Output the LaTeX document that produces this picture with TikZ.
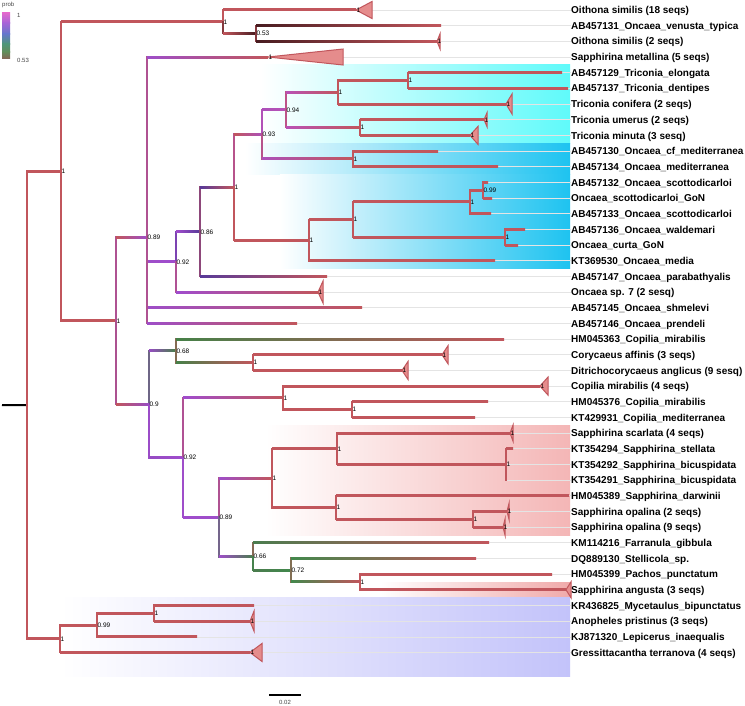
\documentclass[tikz,border=0pt]{standalone}
\usepackage{fontspec}
\setmainfont{Liberation Sans}
\usetikzlibrary{calc}
\definecolor{cR}{RGB}{193,86,92}
\definecolor{cD}{RGB}{72,28,32}
\definecolor{cPa}{RGB}{158,78,200}
\definecolor{cPb}{RGB}{160,76,205}
\definecolor{cPc}{RGB}{150,76,195}
\definecolor{cBV}{RGB}{88,58,152}
\definecolor{cMa}{RGB}{172,80,186}
\definecolor{cMb}{RGB}{185,82,182}
\definecolor{cGa}{RGB}{70,128,72}
\definecolor{cGb}{RGB}{74,124,78}
\definecolor{cGc}{RGB}{66,136,76}
\definecolor{triF}{RGB}{229,140,140}
\definecolor{hlC}{RGB}{95,250,250}
\definecolor{hlB}{RGB}{30,195,240}
\definecolor{hlP}{RGB}{244,182,182}
\definecolor{hlQ}{RGB}{240,170,170}
\definecolor{hlL}{RGB}{195,195,250}
\definecolor{gline}{RGB}{228,228,228}
\definecolor{lgA}{RGB}{135,100,85}
\definecolor{lgB}{RGB}{100,140,90}
\definecolor{lgC}{RGB}{80,150,120}
\definecolor{lgD}{RGB}{100,120,200}
\definecolor{lgE}{RGB}{165,100,215}
\definecolor{lgF}{RGB}{225,105,205}
\definecolor{lgT}{RGB}{70,70,70}
\newcommand\tbr[4]{%
  \draw[brl,#3!50!#4] (#1) -- (#1|-#2);
  \shade[left color=#3,right color=#4] ($(#1|-#2)+(0,-1)$) rectangle ($(#2)+(0,1)$);
}
\newcommand\ctri[3]{\filldraw[tri] (#1) -- ++(#2,-#3) -- ++(0,2*#3) -- cycle;}
\begin{document}
\begin{tikzpicture}[x=1pt,y=-1pt,
  brl/.style={line width=2pt,line cap=rect},
  tri/.style={fill=triF,draw=cR,line width=1pt,line join=miter},
  lab/.style={anchor=west,inner sep=0pt,font=\bfseries\fontsize{10}{12}\selectfont,text height=7.3pt,text depth=0pt},
  nl/.style={anchor=west,inner sep=0.4pt,font=\fontsize{6.5}{7}\selectfont,text height=4.7pt,text depth=0pt},
  guide/.style={line width=0.6pt,draw=gline},
  small/.style={inner sep=0pt,text=lgT,font=\fontsize{6}{7}\selectfont}]
\useasboundingbox[fill=white] (0,0) rectangle (745,706);
% highlights
\shade[left color=white,right color=hlC] (261,64.8) rectangle (570,143.2);
\shade[left color=white,right color=hlB] (245,143.2) rectangle (570,174.5);
\shade[left color=white,right color=hlB] (280,174.5) rectangle (570,268.5);
\shade[left color=white,right color=hlP] (265,425.3) rectangle (570,535);
\shade[left color=white,right color=hlQ] (380,582) rectangle (570,597.6);
\shade[left color=white,right color=hlL] (60,597.6) rectangle (570,676);
% internal nodes
\coordinate (stub) at (2,405);
\coordinate (root) at (27,405.03);
\coordinate (A) at (61,171.3);
\coordinate (Oith) at (223,21.75);
\coordinate (B) at (256,33.5);
\coordinate (C) at (116,320.85);
\coordinate (D) at (147,237.5);
\coordinate (E) at (176,261.9);
\coordinate (G) at (200,231.8);
\coordinate (H) at (234,187.28);
\coordinate (I) at (262,134.4);
\coordinate (K) at (286,109.9);
\coordinate (M) at (338,92.26);
\coordinate (O) at (408,80.5);
\coordinate (N) at (360,127.5);
\coordinate (L) at (353,158.87);
\coordinate (J) at (309,240.16);
\coordinate (P) at (353,219.6);
\coordinate (Q) at (470,201.96);
\coordinate (S) at (483,190.2);
\coordinate (Rn) at (505,237.2);
\coordinate (F) at (149,404.2);
\coordinate (T) at (176,350.8);
\coordinate (V) at (253,362.6);
\coordinate (U) at (183,457.55);
\coordinate (W) at (283,397.8);
\coordinate (X) at (352,409.6);
\coordinate (Y) at (219,517.3);
\coordinate (Z) at (272,478.1);
\coordinate (AB) at (337,448.76);
\coordinate (AD) at (506,464.43);
\coordinate (AC) at (336,507.5);
\coordinate (AE) at (473,519.3);
\coordinate (AA) at (253,556.5);
\coordinate (AF) at (291,570.2);
\coordinate (AG) at (360,581.96);
\coordinate (Out) at (60,638.76);
\coordinate (AH) at (97,625.05);
\coordinate (AI) at (154,613.3);
% leaves
\coordinate (l1) at (356,10);
\coordinate (l2) at (441,25.67);
\coordinate (l3) at (437,41.34);
\coordinate (l4) at (268,57.01);
\coordinate (l5) at (562,72.68);
\coordinate (l6) at (568,88.35);
\coordinate (l7) at (506,104.02);
\coordinate (l8) at (484,119.69);
\coordinate (l9) at (470,135.36);
\coordinate (l10) at (438,151.03);
\coordinate (l11) at (498,166.7);
\coordinate (l12) at (488,182.37);
\coordinate (l13) at (492,198.04);
\coordinate (l14) at (491,213.71);
\coordinate (l15) at (525,229.38);
\coordinate (l16) at (518,245.05);
\coordinate (l17) at (495,260.72);
\coordinate (l18) at (327,276.39);
\coordinate (l19) at (318,292.06);
\coordinate (l20) at (362,307.73);
\coordinate (l21) at (297,323.4);
\coordinate (l22) at (504,339.07);
\coordinate (l23) at (442,354.74);
\coordinate (l24) at (402,370.41);
\coordinate (l25) at (540,386.08);
\coordinate (l26) at (488,401.75);
\coordinate (l27) at (475,417.42);
\coordinate (l28) at (510,433.09);
\coordinate (l29) at (513,448.76);
\coordinate (l30) at (506,464.43);
\coordinate (l31) at (506,480.1);
\coordinate (l32) at (569,495.77);
\coordinate (l33) at (507,511.44);
\coordinate (l34) at (503,527.11);
\coordinate (l35) at (489,542.78);
\coordinate (l36) at (476,558.45);
\coordinate (l37) at (552,574.12);
\coordinate (l38) at (566,589.79);
\coordinate (l39) at (254,605.46);
\coordinate (l40) at (250,621.13);
\coordinate (l41) at (197,636.8);
\coordinate (l42) at (250,652.47);
% leaf labels
\node[lab] (t1) at (571,10) {Oithona similis (18 seqs)};
\node[lab] (t2) at (571,25.67) {AB457131\_Oncaea\_venusta\_typica};
\node[lab] (t3) at (571,41.34) {Oithona similis (2 seqs)};
\node[lab] (t4) at (571,57.01) {Sapphirina metallina (5 seqs)};
\node[lab] (t5) at (571,72.68) {AB457129\_Triconia\_elongata};
\node[lab] (t6) at (571,88.35) {AB457137\_Triconia\_dentipes};
\node[lab] (t7) at (571,104.02) {Triconia conifera (2 seqs)};
\node[lab] (t8) at (571,119.69) {Triconia umerus (2 seqs)};
\node[lab] (t9) at (571,135.36) {Triconia minuta (3 sesq)};
\node[lab] (t10) at (571,151.03) {AB457130\_Oncaea\_cf\_mediterranea};
\node[lab] (t11) at (571,166.7) {AB457134\_Oncaea\_mediterranea};
\node[lab] (t12) at (571,182.37) {AB457132\_Oncaea\_scottodicarloi};
\node[lab] (t13) at (571,198.04) {Oncaea\_scottodicarloi\_GoN};
\node[lab] (t14) at (571,213.71) {AB457133\_Oncaea\_scottodicarloi};
\node[lab] (t15) at (571,229.38) {AB457136\_Oncaea\_waldemari};
\node[lab] (t16) at (571,245.05) {Oncaea\_curta\_GoN};
\node[lab] (t17) at (571,260.72) {KT369530\_Oncaea\_media};
\node[lab] (t18) at (571,276.39) {AB457147\_Oncaea\_parabathyalis};
\node[lab] (t19) at (571,292.06) {Oncaea sp. 7 (2 sesq)};
\node[lab] (t20) at (571,307.73) {AB457145\_Oncaea\_shmelevi};
\node[lab] (t21) at (571,323.4) {AB457146\_Oncaea\_prendeli};
\node[lab] (t22) at (571,339.07) {HM045363\_Copilia\_mirabilis};
\node[lab] (t23) at (571,354.74) {Corycaeus affinis (3 seqs)};
\node[lab] (t24) at (571,370.41) {Ditrichocorycaeus anglicus (9 sesq)};
\node[lab] (t25) at (571,386.08) {Copilia mirabilis (4 seqs)};
\node[lab] (t26) at (571,401.75) {HM045376\_Copilia\_mirabilis};
\node[lab] (t27) at (571,417.42) {KT429931\_Copilia\_mediterranea};
\node[lab] (t28) at (571,433.09) {Sapphirina scarlata (4 seqs)};
\node[lab] (t29) at (571,448.76) {KT354294\_Sapphirina\_stellata};
\node[lab] (t30) at (571,464.43) {KT354292\_Sapphirina\_bicuspidata};
\node[lab] (t31) at (571,480.1) {KT354291\_Sapphirina\_bicuspidata};
\node[lab] (t32) at (571,495.77) {HM045389\_Sapphirina\_darwinii};
\node[lab] (t33) at (571,511.44) {Sapphirina opalina (2 seqs)};
\node[lab] (t34) at (571,527.11) {Sapphirina opalina (9 seqs)};
\node[lab] (t35) at (571,542.78) {KM114216\_Farranula\_gibbula};
\node[lab] (t36) at (571,558.45) {DQ889130\_Stellicola\_sp.};
\node[lab] (t37) at (571,574.12) {HM045399\_Pachos\_punctatum};
\node[lab] (t38) at (571,589.79) {Sapphirina angusta (3 seqs)};
\node[lab] (t39) at (571,605.46) {KR436825\_Mycetaulus\_bipunctatus};
\node[lab] (t40) at (571,621.13) {Anopheles pristinus (3 seqs)};
\node[lab] (t41) at (571,636.8) {KJ871320\_Lepicerus\_inaequalis};
\node[lab] (t42) at (571,652.47) {Gressittacantha terranova (4 seqs)};
% guide lines
\foreach \i in {1,...,42}{\draw[guide] (l\i) -- (t\i.west);}
% branches
\draw[line width=2pt] (stub) -- (root);
\tbr{root}{A}{cR}{cR}
\tbr{root}{Out}{cR}{cR}
\tbr{A}{Oith}{cR}{cR}
\tbr{A}{C}{cR}{cR}
\tbr{Oith}{l1}{cR}{cR}
\tbr{Oith}{B}{cR}{cD}
\tbr{B}{l2}{cD}{cR}
\tbr{B}{l3}{cD}{cR}
\tbr{C}{D}{cR}{cPa}
\tbr{C}{F}{cR}{cPc}
\tbr{D}{l4}{cPa}{cR}
\tbr{D}{E}{cPa}{cPb}
\tbr{D}{l20}{cPa}{cR}
\tbr{D}{l21}{cPa}{cR}
\tbr{E}{G}{cPb}{cBV}
\tbr{E}{l19}{cPb}{cR}
\tbr{G}{H}{cBV}{cR}
\tbr{G}{l18}{cBV}{cR}
\tbr{H}{I}{cR}{cMa}
\tbr{H}{J}{cR}{cR}
\tbr{I}{K}{cMa}{cMb}
\tbr{I}{L}{cMa}{cR}
\tbr{K}{M}{cMb}{cR}
\tbr{K}{N}{cMb}{cR}
\tbr{M}{O}{cR}{cR}
\tbr{M}{l7}{cR}{cR}
\tbr{O}{l5}{cR}{cR}
\tbr{O}{l6}{cR}{cR}
\tbr{N}{l8}{cR}{cR}
\tbr{N}{l9}{cR}{cR}
\tbr{L}{l10}{cR}{cR}
\tbr{L}{l11}{cR}{cR}
\tbr{J}{P}{cR}{cR}
\tbr{J}{l17}{cR}{cR}
\tbr{P}{Q}{cR}{cR}
\tbr{P}{Rn}{cR}{cR}
\tbr{Q}{S}{cR}{cR}
\tbr{Q}{l14}{cR}{cR}
\tbr{S}{l12}{cR}{cR}
\tbr{S}{l13}{cR}{cR}
\tbr{Rn}{l15}{cR}{cR}
\tbr{Rn}{l16}{cR}{cR}
\tbr{F}{T}{cPc}{cGa}
\tbr{F}{U}{cPc}{cPb}
\tbr{T}{l22}{cGa}{cR}
\tbr{T}{V}{cGa}{cR}
\tbr{V}{l23}{cR}{cR}
\tbr{V}{l24}{cR}{cR}
\tbr{U}{W}{cPb}{cR}
\tbr{U}{Y}{cPb}{cPa}
\tbr{W}{l25}{cR}{cR}
\tbr{W}{X}{cR}{cR}
\tbr{X}{l26}{cR}{cR}
\tbr{X}{l27}{cR}{cR}
\tbr{Y}{Z}{cPa}{cR}
\tbr{Y}{AA}{cPa}{cGb}
\tbr{Z}{AB}{cR}{cR}
\tbr{Z}{AC}{cR}{cR}
\tbr{AB}{l28}{cR}{cR}
\tbr{AB}{AD}{cR}{cR}
\tbr{AD}{l29}{cR}{cR}
\draw[brl,cR] (AD) -- (l31);
\tbr{AC}{l32}{cR}{cR}
\tbr{AC}{AE}{cR}{cR}
\tbr{AE}{l33}{cR}{cR}
\tbr{AE}{l34}{cR}{cR}
\tbr{AA}{l35}{cGb}{cR}
\tbr{AA}{AF}{cGb}{cGc}
\tbr{AF}{l36}{cGc}{cR}
\tbr{AF}{AG}{cGc}{cR}
\tbr{AG}{l37}{cR}{cR}
\tbr{AG}{l38}{cR}{cR}
\tbr{Out}{AH}{cR}{cR}
\tbr{Out}{l42}{cR}{cR}
\tbr{AH}{AI}{cR}{cR}
\tbr{AH}{l41}{cR}{cR}
\tbr{AI}{l39}{cR}{cR}
\tbr{AI}{l40}{cR}{cR}
% collapsed clades
\ctri{l1}{16}{8.5}
\ctri{l3}{3}{7.5}
\ctri{l4}{75}{8}
\ctri{l7}{6}{10}
\ctri{l8}{3}{7}
\ctri{l9}{8}{9}
\ctri{l19}{5}{11}
\ctri{l23}{6}{9}
\ctri{l24}{6}{9}
\ctri{l25}{8}{9}
\ctri{l28}{3}{8}
\ctri{l33}{2}{8}
\ctri{l34}{2}{8}
\ctri{l38}{5}{8}
\ctri{l40}{4}{10}
\ctri{l42}{12}{9}
% node labels
\node[nl] (nA) at (A) {1};
\node[nl] (nOith) at (Oith) {1};
\node[nl] (nB) at (B) {0.53};
\node[nl] (nC) at (C) {1};
\node[nl] (nD) at (D) {0.89};
\node[nl] (nE) at (E) {0.92};
\node[nl] (nG) at (G) {0.86};
\node[nl] (nH) at (H) {1};
\node[nl] (nI) at (I) {0.93};
\node[nl] (nK) at (K) {0.94};
\node[nl] (nM) at (M) {1};
\node[nl] (nO) at (O) {1};
\node[nl] (nN) at (N) {1};
\node[nl] (nL) at (L) {1};
\node[nl] (nJ) at (J) {1};
\node[nl] (nP) at (P) {1};
\node[nl] (nQ) at (Q) {1};
\node[nl] (nS) at (S) {0.99};
\node[nl] (nRn) at (Rn) {1};
\node[nl] (nF) at (F) {0.9};
\node[nl] (nT) at (T) {0.68};
\node[nl] (nV) at (V) {1};
\node[nl] (nU) at (U) {0.92};
\node[nl] (nW) at (W) {1};
\node[nl] (nX) at (X) {1};
\node[nl] (nY) at (Y) {0.89};
\node[nl] (nZ) at (Z) {1};
\node[nl] (nAB) at (AB) {1};
\node[nl] (nAD) at (AD) {1};
\node[nl] (nAC) at (AC) {1};
\node[nl] (nAE) at (AE) {1};
\node[nl] (nAA) at (AA) {0.66};
\node[nl] (nAF) at (AF) {0.72};
\node[nl] (nAG) at (AG) {1};
\node[nl] (nOut) at (Out) {1};
\node[nl] (nAH) at (AH) {0.99};
\node[nl] (nAI) at (AI) {1};
\foreach \i in {1,3,4,7,8,9,19,23,24,25,28,33,34,40,42}{\node[nl] (c\i) at (l\i) {1};}
% legend
\node[small,anchor=north west] (lgt) at (2,2) {prob};
\shade[top color=lgF,bottom color=lgE] (2,13) rectangle (10,23.2);
\shade[top color=lgE,bottom color=lgD] (2,23) rectangle (10,34.2);
\shade[top color=lgD,bottom color=lgC] (2,34) rectangle (10,44.2);
\shade[top color=lgC,bottom color=lgB] (2,44) rectangle (10,52.2);
\shade[top color=lgB,bottom color=lgA] (2,52) rectangle (10,59);
\node[small,anchor=west] (lg1) at (17,15) {1};
\node[small,anchor=west] (lg2) at (17,60) {0.53};
% scale bar
\coordinate (sb1) at (269,695);
\coordinate (sb2) at (301,695);
\draw[line width=1.2pt] (sb1) -- (sb2);
\node[small] (sbt) at (285,702) {0.02};
\end{tikzpicture}
\end{document}
